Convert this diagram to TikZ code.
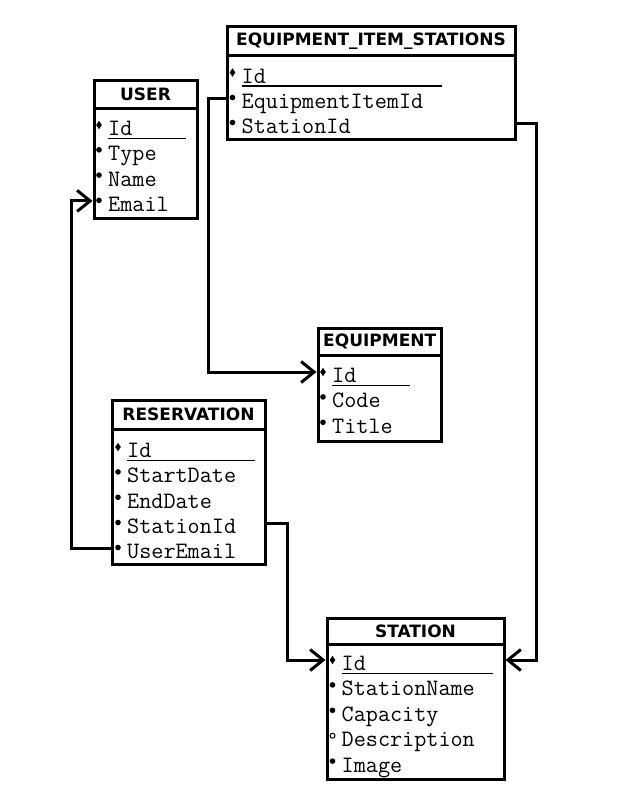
\documentclass[tikz,border=0pt]{standalone}
\usepackage{fontspec}
\usepackage{tikz}
\usetikzlibrary{shapes.geometric}
\usetikzlibrary{positioning, arrows.meta}
\newfontfamily\titlefont{DejaVu Sans}

\tikzset{
  ebox/.style={draw, line width=3pt, inner sep=0pt},
  sepline/.style={line width=3pt},
  etitle/.style={font=\titlefont\bfseries\fontsize{17}{19}\selectfont, inner sep=0pt},
  attr/.style={anchor=base west, inner sep=0pt, text height=21pt, text depth=0pt,
    font=\ttfamily\fontsize{23.5}{25}\selectfont},
  marker/.style={inner sep=0pt, outer sep=0pt, anchor=center, xshift=-9pt},
  mand/.style={label={[marker, yshift=0.5pt, circle, fill, minimum size=5.6pt]west:{}}},
  opt/.style={label={[marker, yshift=0.5pt, circle, draw, line width=1pt, minimum size=5pt]west:{}}},
  pkey/.style={label={[marker, diamond, fill, minimum width=5.6pt, minimum height=8.5pt]west:{}}},
  uline/.style={line width=1.3pt},
  fk/.style={line width=3pt, -{Straight Barb[length=13pt, width=21pt]}}
}

\begin{document}
\begin{tikzpicture}[x=1pt, y=-1pt]
  \useasboundingbox (0,0) rectangle (618,807);

  % USER
  \node[ebox, minimum width=103pt, minimum height=138pt] (user) at (145.5,149) {};
  \node[etitle] (userTitle) at (145.5,94.5) {USER};
  \draw[sepline] (user.west |- 0,108.5) -- (user.east |- 0,108.5);
  \node[attr, pkey] (userId) at (108,135.5) {Id};
  \node[attr, mand] (userType) at (108,160.8) {Type};
  \node[attr, mand] (userName) at (108,186.1) {Name};
  \node[attr, mand] (userEmail) at (108,211.4) {Email};
  \draw[uline] ([yshift=-3pt]userId.base west) -- ++(78,0);

  % EQUIPMENT_ITEM_STATIONS
  \node[ebox, minimum width=288pt, minimum height=113pt] (eis) at (371,82.5) {};
  \node[etitle] (eisTitle) at (371,41) {EQUIPMENT\_ITEM\_STATIONS};
  \draw[sepline] (eis.west |- 0,55) -- (eis.east |- 0,55);
  \node[attr, pkey] (eisId) at (241.5,83) {Id};
  \node[attr, mand] (eisItem) at (241.5,108.5) {EquipmentItemId};
  \node[attr, mand] (eisStation) at (241.5,133.5) {StationId};
  \draw[uline] ([yshift=-3pt]eisId.base west) -- ++(200,0);

  % EQUIPMENT
  \node[ebox, minimum width=123.5pt, minimum height=113pt] (equip) at (379.75,384.5) {};
  \node[etitle] (equipTitle) at (379.75,341.5) {EQUIPMENT};
  \draw[sepline] (equip.west |- 0,355) -- (equip.east |- 0,355);
  \node[attr, pkey] (equipId) at (332,382.5) {Id};
  \node[attr, mand] (equipCode) at (332,407.9) {Code};
  \node[attr, mand] (equipTitleAttr) at (332,433.3) {Title};
  \draw[uline] ([yshift=-3pt]equipId.base west) -- ++(78,0);

  % RESERVATION
  \node[ebox, minimum width=153pt, minimum height=164pt] (res) at (188.5,482) {};
  \node[etitle] (resTitle) at (188.5,414.5) {RESERVATION};
  \draw[sepline] (res.west |- 0,429) -- (res.east |- 0,429);
  \node[attr, pkey] (resId) at (127,457.5) {Id};
  \node[attr, mand] (resStart) at (127,482.9) {StartDate};
  \node[attr, mand] (resEnd) at (127,508.3) {EndDate};
  \node[attr, mand] (resStation) at (127,533.5) {StationId};
  \node[attr, mand] (resEmail) at (127,558.5) {UserEmail};
  \draw[uline] ([yshift=-3pt]resId.base west) -- ++(128,0);

  % STATION
  \node[ebox, minimum width=177pt, minimum height=161pt] (station) at (415.5,698.5) {};
  \node[etitle] (stationTitle) at (415.5,631) {STATION};
  \draw[sepline] (station.west |- 0,644) -- (station.east |- 0,644);
  \node[attr, pkey] (stationId) at (341.5,670.5) {Id};
  \node[attr, mand] (stationName) at (341.5,695.9) {StationName};
  \node[attr, mand] (stationCap) at (341.5,721.3) {Capacity};
  \node[attr, opt] (stationDesc) at (341.5,746.7) {Description};
  \node[attr, mand] (stationImg) at (341.5,772.1) {Image};
  \draw[uline] ([yshift=-3pt]stationId.base west) -- ++(151,0);

  % foreign keys
  \draw[fk] (eisItem.west -| eis.west) -- ++(-17,0) |- (equipId.west -| equip.west);
  \draw[fk] (eisStation.west -| eis.east) -- ++(20,0) |- (stationId.west -| station.east);
  \draw[fk] (resStation.west -| res.east) -- ++(21,0) |- (stationId.west -| station.west);
  \draw[fk] (resEmail.west -| res.west) -- ++(-39,0) |- (userEmail.west -| user.west);
\end{tikzpicture}
\end{document}
